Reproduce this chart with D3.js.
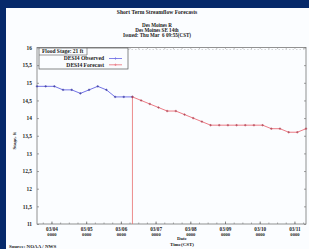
<!DOCTYPE html>
<html>
<head>
<meta charset="utf-8">
<script src="https://cdn.jsdelivr.net/npm/d3@7.9.0/dist/d3.min.js"></script>
<style>
  html, body { margin: 0; padding: 0; background: #06296a; }
  svg { display: block; }
  text { font-family: "Liberation Serif", "DejaVu Serif", serif; font-weight: bold; fill: #222; }
</style>
</head>
<body>
<div id="chart"></div>
<script>
// stage readings every 6 hours (CST)
const obsStart = Date.UTC(2025, 2, 3, 14);
const observed = [14.9, 14.9, 14.9, 14.8, 14.8, 14.7, 14.8, 14.9, 14.8, 14.6, 14.6, 14.6];
const fcstStart = Date.UTC(2025, 2, 6, 8);
const forecast = [14.6, 14.5, 14.4, 14.3, 14.2, 14.2, 14.1, 14.0, 13.9,
                  13.8, 13.8, 13.8, 13.8, 13.8, 13.8, 13.8, 13.7, 13.7, 13.6, 13.6, 13.7];
const dayTicks = ['03/04', '03/05', '03/06', '03/07', '03/08', '03/09', '03/10', '03/11'];
const yTicks = [11, 11.5, 12, 12.5, 13, 13.5, 14, 14.5, 15, 15.5, 16];
const titleLines = ['Des Moines R', 'Des Moines SE 14th', 'Issued: Thu Mar  6 09:55(CST)'];

const HOUR = 3600 * 1000;
const toPoints = (start, vals) => vals.map((v, i) => ({ t: new Date(start + i * 6 * HOUR), v }));
const obsPts = toPoints(obsStart, observed);
const fcstPts = toPoints(fcstStart, forecast);

const width = 309, height = 249;
const plot = { left: 37, right: 306, top: 47.5, bottom: 224 };

const svg = d3.select('#chart').append('svg')
  .attr('width', width).attr('height', height);

svg.append('rect').attr('width', width).attr('height', height).attr('fill', '#06296a');
svg.append('rect').attr('x', 6).attr('y', 8).attr('width', width - 6).attr('height', height - 8)
  .attr('fill', '#fbfdff');

const x = d3.scaleUtc()
  .domain([new Date(obsStart), new Date(fcstStart + (forecast.length - 1) * 6 * HOUR)])
  .range([plot.left, plot.right]);
const y = d3.scaleLinear().domain([11, 16]).range([plot.bottom, plot.top]);

const dayDates = dayTicks.map((d, i) => new Date(Date.UTC(2025, 2, 4 + i)));
const sixHours = d3.utcHour.every(6).range(x.domain()[0], x.domain()[1]);

// frame
svg.append('rect')
  .attr('x', plot.left).attr('y', plot.top)
  .attr('width', plot.right - plot.left).attr('height', plot.bottom - plot.top)
  .attr('fill', 'none').attr('stroke', '#777').attr('stroke-width', 0.8);

// top dotted grid line + minor ticks
svg.append('line')
  .attr('x1', plot.left).attr('x2', plot.right)
  .attr('y1', plot.top + 2).attr('y2', plot.top + 2)
  .attr('stroke', '#bbb').attr('stroke-width', 0.6).attr('stroke-dasharray', '1.5,2');

svg.append('g')
  .attr('transform', `translate(0,${plot.top})`)
  .call(d3.axisTop(x).tickValues(sixHours).tickSize(-1.5).tickFormat(''))
  .call(g => g.select('.domain').remove())
  .call(g => g.selectAll('line').attr('stroke', '#999').attr('stroke-width', 0.6));

// bottom axis
svg.append('g')
  .attr('transform', `translate(0,${plot.bottom})`)
  .call(d3.axisBottom(x).tickValues(sixHours).tickSize(-1.5).tickFormat(''))
  .call(g => g.select('.domain').remove())
  .call(g => g.selectAll('line').attr('stroke', '#777').attr('stroke-width', 0.6));

const xAxis = svg.append('g')
  .attr('transform', `translate(0,${plot.bottom})`)
  .call(d3.axisBottom(x).tickValues(dayDates).tickSize(-2.5).tickFormat(''))
  .call(g => g.select('.domain').remove())
  .call(g => g.selectAll('line').attr('stroke', '#666').attr('stroke-width', 0.7));

xAxis.selectAll('.tick').each(function(d, i) {
  const t = d3.select(this);
  t.append('text').attr('y', 6.5).attr('text-anchor', 'middle')
    .attr('font-size', 5.2).attr('fill', '#2a3a6a').text(dayTicks[i]);
  t.append('text').attr('y', 12).attr('text-anchor', 'middle')
    .attr('font-size', 4.6).attr('fill', '#2a3a6a').text('0000');
});

// y axes
svg.append('g')
  .attr('transform', `translate(${plot.left},0)`)
  .call(d3.axisLeft(y).tickValues(yTicks).tickSize(-2).tickPadding(5)
    .tickFormat(d => String(d).replace('.', ',')))
  .call(g => g.select('.domain').remove())
  .call(g => g.selectAll('line').attr('stroke', '#777').attr('stroke-width', 0.7))
  .call(g => g.selectAll('text').attr('font-size', 5.4).attr('fill', '#2a3a6a')
    .attr('font-family', '"Liberation Serif", serif').attr('font-weight', 'bold'));

svg.append('g')
  .attr('transform', `translate(${plot.right},0)`)
  .call(d3.axisRight(y).tickValues(yTicks).tickSize(-2).tickFormat(''))
  .call(g => g.select('.domain').remove())
  .call(g => g.selectAll('line').attr('stroke', '#777').attr('stroke-width', 0.7));

// forecast start marker
const f0 = fcstPts[0];
svg.append('line')
  .attr('x1', x(f0.t)).attr('x2', x(f0.t))
  .attr('y1', y(f0.v)).attr('y2', plot.bottom)
  .attr('stroke', '#e87070').attr('stroke-width', 0.8);

// series
const line = d3.line().x(d => x(d.t)).y(d => y(d.v));

function drawSeries(pts, color, markColor) {
  svg.append('path').datum(pts)
    .attr('d', line).attr('fill', 'none')
    .attr('stroke', color).attr('stroke-width', 1);
  svg.append('g').selectAll('path')
    .data(pts)
    .join('path')
      .attr('d', d => `M${x(d.t) - 1.2},${y(d.v)}h2.4M${x(d.t)},${y(d.v) - 1.2}v2.4`)
      .attr('stroke', markColor).attr('stroke-width', 0.7);
}
drawSeries(obsPts, '#7474e6', '#3a3aa0');
drawSeries(fcstPts, '#ec7c86', '#b04050');

// legend
const lg = svg.append('g').attr('transform', `translate(${plot.left + 2},${plot.top + 0.5})`);
lg.append('rect').attr('width', 89).attr('height', 21).attr('fill', '#fbfdff')
  .attr('stroke', '#555').attr('stroke-width', 0.7);
lg.append('line').attr('x1', 0).attr('x2', 48).attr('y1', 7).attr('y2', 7)
  .attr('stroke', '#555').attr('stroke-width', 0.6);
lg.append('line').attr('x1', 48).attr('x2', 48).attr('y1', 0).attr('y2', 7)
  .attr('stroke', '#555').attr('stroke-width', 0.6);
lg.append('text').attr('x', 3).attr('y', 5.3).attr('font-size', 5.5).attr('fill', '#333')
  .text('Flood Stage:  21 ft');

const legendItems = [
  { label: 'DESI4 Observed', color: '#3030d8', line: '#7474e6' },
  { label: 'DESI4 Forecast', color: '#e02838', line: '#ec7c86' }
];
legendItems.forEach((d, i) => {
  const yy = 12.3 + i * 6.3;
  lg.append('text').attr('x', 65).attr('y', yy).attr('text-anchor', 'end')
    .attr('font-size', 5.6).attr('fill', d.color).text(d.label);
  lg.append('line').attr('x1', 70).attr('x2', 83).attr('y1', yy - 1.8).attr('y2', yy - 1.8)
    .attr('stroke', d.line).attr('stroke-width', 0.9);
  lg.append('path').attr('d', `M75.3,${yy - 1.8}h2.4M76.5,${yy - 3}v2.4`)
    .attr('stroke', d.line).attr('stroke-width', 0.7);
});

// titles
svg.append('text').attr('x', 157).attr('y', 14).attr('text-anchor', 'middle')
  .attr('font-size', 5.6).text('Short Term Streamflow Forecasts');
titleLines.forEach((t, i) => {
  svg.append('text').attr('x', 157).attr('y', 27 + i * 5.2).attr('text-anchor', 'middle')
    .attr('font-size', 5.1).attr('xml:space', 'preserve').text(t);
});

svg.append('text')
  .attr('transform', `translate(16,${(plot.top + plot.bottom) / 2 + 5}) rotate(-90)`)
  .attr('text-anchor', 'middle').attr('font-size', 5).attr('fill', '#2a3a6a')
  .text('Stage, ft');

svg.append('text').attr('x', 182).attr('y', 240).attr('text-anchor', 'middle')
  .attr('font-size', 5).attr('fill', '#2a3a6a').text('Date');
svg.append('text').attr('x', 182).attr('y', 246).attr('text-anchor', 'middle')
  .attr('font-size', 5).attr('fill', '#2a3a6a').text('Time(CST)');
svg.append('text').attr('x', 9).attr('y', 247.5)
  .attr('font-size', 5).attr('fill', '#222').text('Source: NOAA / NWS');
</script>
</body>
</html>
